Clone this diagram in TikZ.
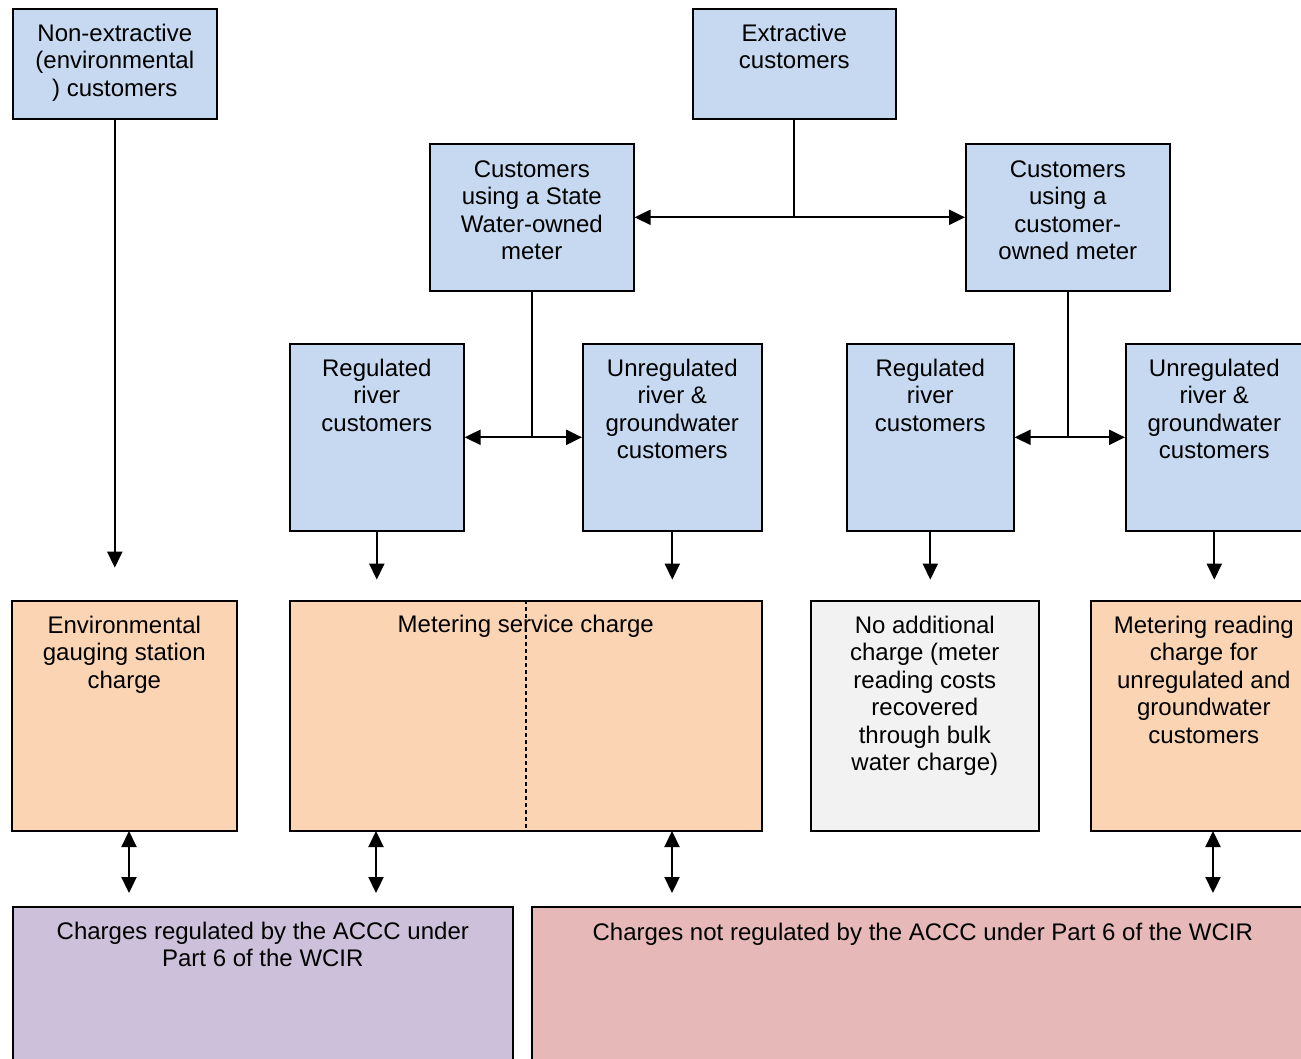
\documentclass[tikz,border=0pt]{standalone}
\usepackage{fontspec}
\setmainfont{Liberation Sans}
\usetikzlibrary{arrows.meta}
\definecolor{cblue}{HTML}{C6D9F1}
\definecolor{corange}{HTML}{FBD4B4}
\definecolor{cgrey}{HTML}{F2F2F2}
\definecolor{cpurple}{HTML}{CCC0DA}
\definecolor{cpink}{HTML}{E6B9B8}
\newcommand{\lbfont}{\fontsize{24}{27.5}\selectfont}
\begin{document}
\begin{tikzpicture}[x=1pt,y=-1pt,
  box/.style={draw=black,line width=1.6pt,inner sep=0pt,anchor=north west},
  lbl/.style={anchor=north,align=center,inner sep=0pt,font=\lbfont},
  conn/.style={line width=2.2pt},
  arr/.style={line width=2.2pt,-{Triangle[length=16pt,width=15pt]}},
  darr/.style={line width=2.2pt,{Triangle[length=16pt,width=15pt]}-{Triangle[length=16pt,width=15pt]}}]
\useasboundingbox (0,0) rectangle (1301,1058);
\fill[white] (0,0) rectangle (1301,1058);
% top row
\node[box,fill=cblue,minimum width=204pt,minimum height=110pt] (ne) at (12,8) {};
\node[lbl] at ([yshift=-14pt]ne.north) {\strut Non-extractive\\(environmental\\) customers};
\node[box,fill=cblue,minimum width=203pt,minimum height=110pt] (ex) at (692,8) {};
\node[lbl] at ([yshift=-14pt]ex.north) {\strut Extractive\\customers};
% second row
\node[box,fill=cblue,minimum width=204pt,minimum height=147pt] (sw) at (429,143) {};
\node[lbl] at ([yshift=-15pt]sw.north) {\strut Customers\\using a State\\Water-owned\\meter};
\node[box,fill=cblue,minimum width=204pt,minimum height=147pt] (co) at (965,143) {};
\node[lbl] at ([yshift=-15pt]co.north) {\strut Customers\\using a\\customer-\\owned meter};
% third row
\node[box,fill=cblue,minimum width=174pt,minimum height=187pt] (rl) at (289,343) {};
\node[lbl] at ([yshift=-14pt]rl.north) {\strut Regulated\\river\\customers};
\node[box,fill=cblue,minimum width=179pt,minimum height=187pt] (ul) at (582,343) {};
\node[lbl] at ([yshift=-14pt]ul.north) {\strut Unregulated\\river \&\\groundwater\\customers};
\node[box,fill=cblue,minimum width=167pt,minimum height=187pt] (rr) at (846,343) {};
\node[lbl] at ([yshift=-14pt]rr.north) {\strut Regulated\\river\\customers};
\node[box,fill=cblue,minimum width=177pt,minimum height=187pt] (ur) at (1125,343) {};
\node[lbl] at ([yshift=-14pt]ur.north) {\strut Unregulated\\river \&\\groundwater\\customers};
% charge row
\node[box,fill=corange,minimum width=225pt,minimum height=230pt] (env) at (11,600) {};
\node[lbl] at ([yshift=-14pt]env.north) {\strut Environmental\\gauging station\\charge};
\node[box,fill=corange,minimum width=472pt,minimum height=230pt] (ms) at (289,600) {};
\draw[line width=1.5pt,dash pattern=on 4pt off 3pt] (ms.north -| 526,0) -- (ms.south -| 526,0);
\node[lbl] at ([yshift=-13pt]ms.north) {\strut Metering service charge};
\node[box,fill=cgrey,minimum width=228pt,minimum height=230pt] (na) at (810,600) {};
\node[lbl] at ([yshift=-14pt]na.north) {\strut No additional\\charge (meter\\reading costs\\recovered\\through bulk\\water charge)};
\node[box,fill=corange,minimum width=226pt,minimum height=230pt] (mr) at (1090,600) {};
\node[lbl] at ([yshift=-14pt]mr.north) {\strut Metering reading\\charge for\\unregulated and\\groundwater\\customers};
% bottom row
\node[box,fill=cpurple,minimum width=500pt,minimum height=170pt] (reg) at (12,906) {};
\node[lbl] at ([yshift=-14pt]reg.north) {\strut Charges regulated by the ACCC under\\Part 6 of the WCIR};
\node[box,fill=cpink,minimum width=782pt,minimum height=170pt] (nreg) at (531,906) {};
\node[lbl] at ([yshift=-15pt]nreg.north) {\strut Charges not regulated by the ACCC under Part 6 of the WCIR};
% connectors
\draw[arr] (ne.south) -- ++(0,448);
\coordinate (j1) at (ex.south |- sw.east);
\draw[conn] (ex.south) -- (j1);
\draw[arr] (j1) -- (sw.east);
\draw[arr] (j1) -- (co.west);
\coordinate (j2) at (sw.south |- rl.east);
\draw[conn] (sw.south) -- (j2);
\draw[arr] (j2) -- (rl.east);
\draw[arr] (j2) -- (ul.west);
\coordinate (j3) at (co.south |- rr.east);
\draw[conn] (co.south) -- (j3);
\draw[arr] (j3) -- (rr.east);
\draw[arr] (j3) -- (ur.west);
\draw[arr] (rl.south) -- ++(0,48);
\draw[arr] (ul.south) -- ++(0,48);
\draw[arr] (rr.south) -- ++(0,48);
\draw[arr] (ur.south) -- ++(0,48);
\coordinate (a1) at (129,831); \coordinate (b1) at (129,893);
\coordinate (a2) at (376,831); \coordinate (b2) at (376,893);
\coordinate (a3) at (672,831); \coordinate (b3) at (672,893);
\coordinate (a4) at (1213,831); \coordinate (b4) at (1213,893);
\draw[darr] (a1) -- (b1);
\draw[darr] (a2) -- (b2);
\draw[darr] (a3) -- (b3);
\draw[darr] (a4) -- (b4);
\end{tikzpicture}
\end{document}
